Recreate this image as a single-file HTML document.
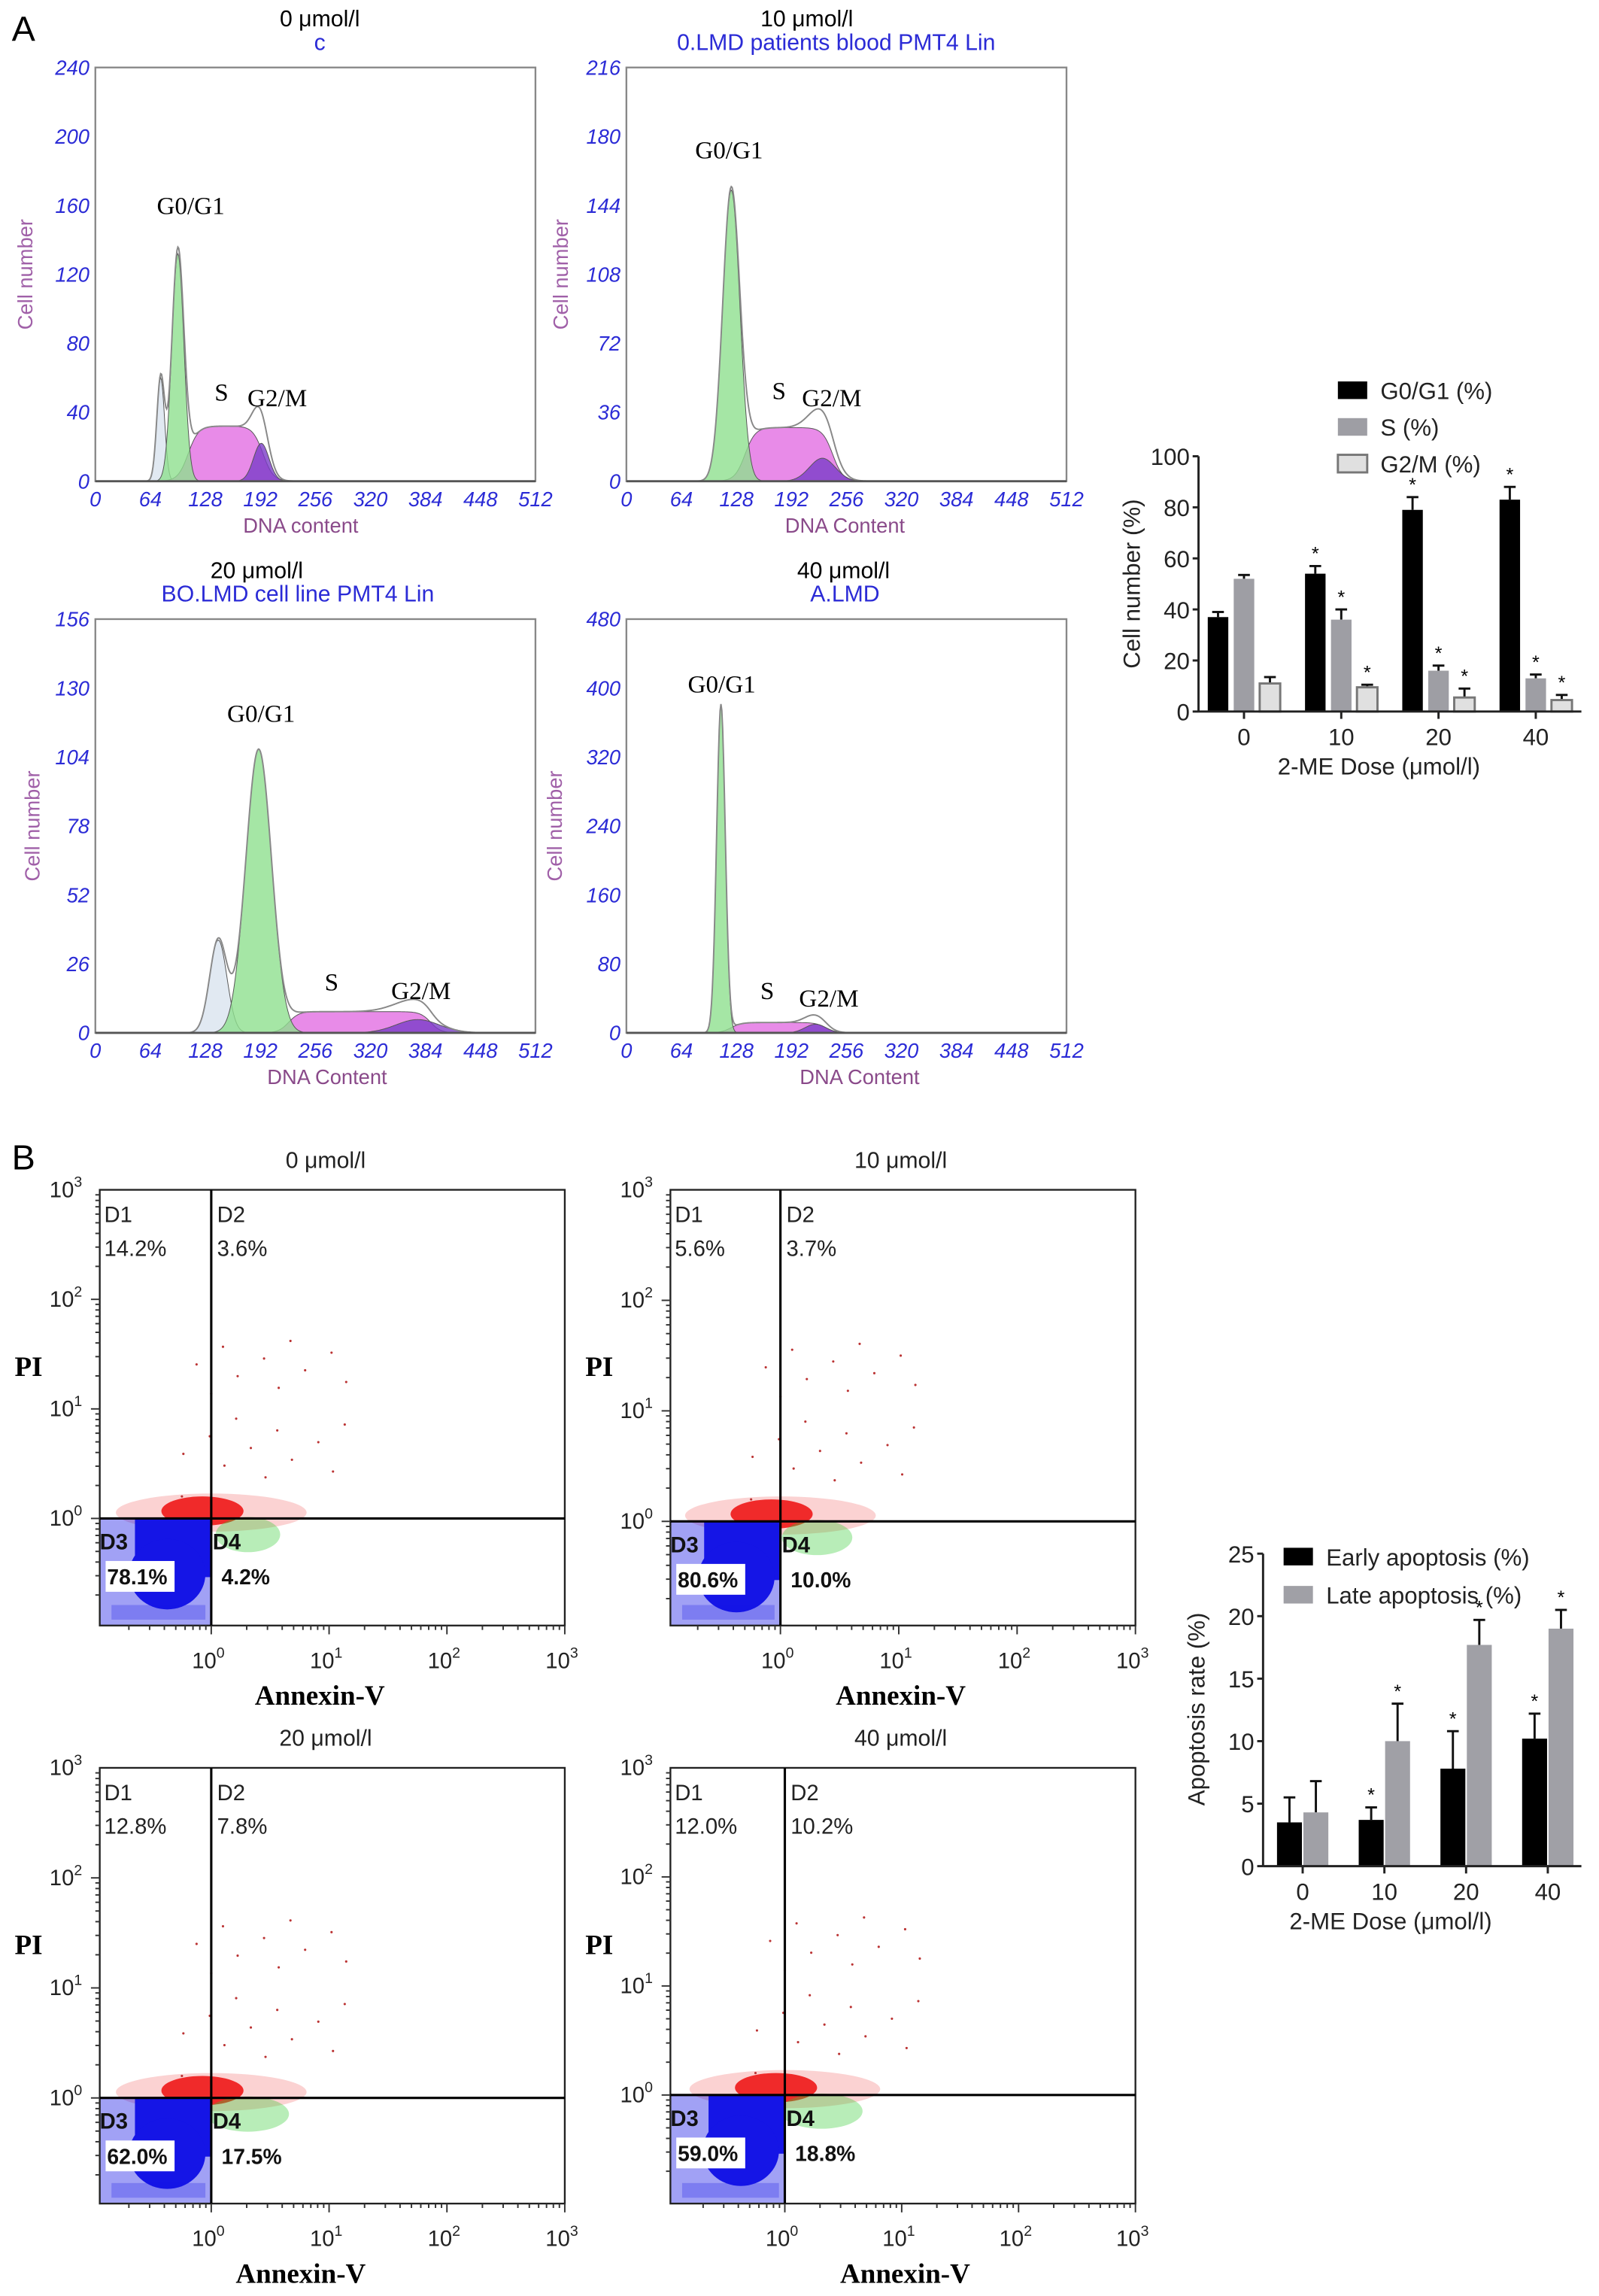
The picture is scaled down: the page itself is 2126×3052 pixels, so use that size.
<!DOCTYPE html>
<html><head><meta charset="utf-8">
<style>
html,body{margin:0;padding:0;background:#fff;}
svg{display:block;}
text{font-family:"Liberation Sans",sans-serif;}
.serif{font-family:"Liberation Serif",serif;}
</style></head>
<body>
<svg id="fig" xmlns="http://www.w3.org/2000/svg" width="2126" height="3052" viewBox="0 0 1090 1565" preserveAspectRatio="none"></svg>
<script>
// ---------- Histogram data (center, height, sd) ----------
const h0Debris=[76,60,4.5], h0G1=[96,132,7], h0S=[108,195,32], h0G2=[193,22,9];
const h10Debris=[0,0,1], h10G1=[122,152,10], h10S=[138,240,28], h10G2=[228,12,15];
const h20Debris=[143,35,10], h20G1=[190,107,15], h20S=[225,390,8], h20G2=[375,5,25];
const h40Debris=[0,0,1], h40G1=[110,380,5], h40S=[122,232,12], h40G2=[220,10,12];
const xTicks=[0,64,128,192,256,320,384,448,512];
// ---------- Bar chart 1 ----------
const doses=["0","10","20","40"];
const g1Vals=[37,54,79,83], g1Err=[2,3,5,5];
const sVals=[52,36,16,13], sErr=[1.5,4,2,1.5];
const g2Vals=[11,9.5,5.5,4.5], g2Err=[2.5,1,3.5,2];
const cycleTicks=[0,20,40,60,80,100];
// ---------- Bar chart 2 ----------
const earlyVals=[3.5,3.7,7.8,10.2], earlyErr=[2,1,3,2];
const lateVals=[4.3,10,17.7,19], lateErr=[2.5,3,2,1.5];
const apoTicks=[0,5,10,15,20,25];
// ---------- Quadrant percentages ----------
const q0=["14.2%","3.6%","78.1%","4.2%"], q10=["5.6%","3.7%","80.6%","10.0%"];
const q20=["12.8%","7.8%","62.0%","17.5%"], q40=["12.0%","10.2%","59.0%","18.8%"];

const svg=document.getElementById('fig');
const NS="http://www.w3.org/2000/svg";
function el(tag,attrs,parent){const e=document.createElementNS(NS,tag);for(const k in attrs)e.setAttribute(k,attrs[k]);(parent||svg).appendChild(e);return e;}
function txt(x,y,s,attrs,parent){const t=el('text',Object.assign({x:x,y:y},attrs||{}),parent);t.textContent=s;return t;}

let t=txt(8,28,"A",{'font-size':24});

t=txt(8,797,"B",{'font-size':24});


function gauss(x,p){return p[1]*Math.exp(-0.5*Math.pow((x-p[0])/p[2],2));}
function plateau(x,p){const w=6;return p[2]/(1+Math.exp(-(x-p[0])/w))/(1+Math.exp(-(p[1]-x)/w));}

function hist(cfg){
  const g=el('g',{});
  
  
  const L=cfg.x,T=cfg.y,W=300,H=282;
  const xs=v=>L+v/512*W, ys=v=>T+H-v/cfg.ymax*H;
  let tt=txt(cfg.tx,cfg.y-28,cfg.title,{'font-size':15.5,'text-anchor':'middle'},g);
  
  tt=txt(cfg.tx2,cfg.y-12,cfg.sub,{'font-size':15.5,'text-anchor':'middle',fill:'#2b2bd6'},g);
  
  const comps=[[cfg.debris,'g','#d9e4ef'],[cfg.s,'p','#e57ee5'],[cfg.g1,'g','#8fe08f'],[cfg.g2,'g','#7a3cc8']];
  const env=[];
  for(let x=0;x<=512;x+=1){let s=0;comps.forEach(c=>{s+=c[1]=='g'?gauss(x,c[0]):plateau(x,c[0]);});env.push([x,s]);}
  comps.forEach((c,i)=>{
    let d='M'+xs(0)+','+ys(0);
    for(let x=0;x<=512;x+=1){const v=c[1]=='g'?gauss(x,c[0]):plateau(x,c[0]);d+=' L'+xs(x).toFixed(2)+','+ys(v).toFixed(2);}
    d+=' L'+xs(512)+','+ys(0)+'Z';
    const p=el('path',{d:d,fill:c[2],'fill-opacity':i==1?0.9:0.8,stroke:'#555','stroke-width':0.5},g);
    
  });
  let d='';env.forEach((e,i)=>{d+=(i?' L':'M')+xs(e[0]).toFixed(2)+','+ys(e[1]).toFixed(2);});
  const en=el('path',{d:d,fill:'none',stroke:'#888','stroke-width':1},g);
  
  const box=el('rect',{x:L,y:T,width:W,height:H,fill:'none',stroke:'#888','stroke-width':1.2},g);
  
  el('line',{x1:L,y1:T+H,x2:L+W,y2:T+H,stroke:'#555','stroke-width':1.5},g);
  for(let v=0;v<=cfg.ymax;v+=cfg.ystep){
    const tl=txt(L-4,ys(v)+5,String(v),{'font-size':14,'font-style':'italic','text-anchor':'end',fill:'#2b2bd6'},g);
    
  }
  xTicks.forEach(v=>{
    const tl=txt(xs(v),T+H+17,String(v),{'font-size':14,'font-style':'italic','text-anchor':'middle',fill:'#2b2bd6'},g);
    
  });
  tt=txt(cfg.xlx,T+H+35,cfg.xl,{'font-size':14,'text-anchor':'middle',fill:'#8a4a8a'},g);
  
  tt=txt(0,0,"Cell number",{'font-size':14,'text-anchor':'middle',fill:'#a060a8',transform:'translate('+cfg.ylx+','+(T+H/2)+') rotate(-90)'},g);
  
  cfg.labels.forEach(l=>{const lt=txt(l[1],l[2],l[0],{'font-size':17,'text-anchor':'middle','class':'serif'},g);
    });
}
hist({name:'histogram-0',x:65,y:46,ymax:240,ystep:40,title:'0 μmol/l',tx:218,sub:'c',tx2:218,xl:'DNA content',xlx:205,ylx:22,
  debris:h0Debris,g1:h0G1,s:h0S,g2:h0G2,labels:[['G0/G1',130,146],['S',151,273],['G2/M',189,277]]});
hist({name:'histogram-10',x:427,y:46,ymax:216,ystep:36,title:'10 μmol/l',tx:550,sub:'0.LMD  patients blood PMT4 Lin',tx2:570,xl:'DNA Content',xlx:576,ylx:387,
  debris:h10Debris,g1:h10G1,s:h10S,g2:h10G2,labels:[['G0/G1',497,108],['S',531,272],['G2/M',567,277]]});
hist({name:'histogram-20',x:65,y:422,ymax:156,ystep:26,title:'20 μmol/l',tx:175,sub:'BO.LMD  cell line PMT4 Lin',tx2:203,xl:'DNA Content',xlx:223,ylx:27,
  debris:h20Debris,g1:h20G1,s:h20S,g2:h20G2,labels:[['G0/G1',178,492],['S',226,675],['G2/M',287,681]]});
hist({name:'histogram-40',x:427,y:422,ymax:480,ystep:80,title:'40 μmol/l',tx:575,sub:'A.LMD',tx2:576,xl:'DNA Content',xlx:586,ylx:383,
  debris:h40Debris,g1:h40G1,s:h40S,g2:h40G2,labels:[['G0/G1',492,472],['S',523,681],['G2/M',565,686]]});

function barChart(cfg){
  const g=el('g',{});
  
  
  const ys=v=>cfg.y0-v*cfg.k;
  const xc=i=>cfg.cx0+i*cfg.step;
  cfg.series.forEach((s,si)=>{
    s.vals.forEach((v,i)=>{
      const cx=xc(i)+(si-(cfg.series.length-1)/2)*cfg.gap;
      const top=ys(v+s.err[i]);
      el('line',{x1:cx,y1:ys(v),x2:cx,y2:top,stroke:'#111','stroke-width':1.5},g);
      el('line',{x1:cx-4,y1:top,x2:cx+4,y2:top,stroke:'#111','stroke-width':1.5},g);
      const r=el('rect',{x:cx-cfg.bw/2,y:ys(v),width:cfg.bw,height:v*cfg.k,fill:s.color,stroke:s.stroke,'stroke-width':s.stroke=='none'?0:1.5},g);
      
      
      if(i>0){const st=txt(cx,top-4,'*',{'font-size':13,'text-anchor':'middle'},g);
        }
    });
  });
  el('line',{x1:cfg.ax,y1:ys(cfg.ticks[cfg.ticks.length-1]),x2:cfg.ax,y2:cfg.y0,stroke:'#222','stroke-width':1.5},g);
  el('line',{x1:cfg.ax,y1:cfg.y0,x2:cfg.xend,y2:cfg.y0,stroke:'#222','stroke-width':1.5},g);
  cfg.ticks.forEach(v=>{
    el('line',{x1:cfg.ax-4,y1:ys(v),x2:cfg.ax,y2:ys(v),stroke:'#222','stroke-width':1.5},g);
    const tl=txt(cfg.ax-6,ys(v)+6,String(v),{'font-size':16,'text-anchor':'end',fill:'#222'},g);
    
  });
  doses.forEach((d,i)=>{
    el('line',{x1:xc(i),y1:cfg.y0,x2:xc(i),y2:cfg.y0+5,stroke:'#222','stroke-width':1.5},g);
    const tl=txt(xc(i),cfg.y0+23,d,{'font-size':16,'text-anchor':'middle',fill:'#222'},g);
    
  });
  let tt=txt(cfg.xlx,cfg.y0+43,'2-ME Dose (μmol/l)',{'font-size':16,'text-anchor':'middle',fill:'#222'},g);
  
  tt=txt(0,0,cfg.ytitle,{'font-size':16,'text-anchor':'middle',fill:'#222',transform:'translate('+cfg.ylx+','+cfg.yly+') rotate(-90)'},g);
  
  cfg.series.forEach((s,si)=>{
    const ly=cfg.legY+si*cfg.legStep;
    const r=el('rect',{x:cfg.legX,y:ly-6,width:20,height:12,fill:s.color,stroke:s.stroke,'stroke-width':s.stroke=='none'?0:1.5},g);
    
    const lt=txt(cfg.legX+29,ly+6,s.label,{'font-size':16,fill:'#222'},g);
    
  });
}
barChart({name:'cell-cycle-bar-chart',y0:485,k:1.74,cx0:848,step:66.3,gap:17.7,bw:14,ax:817,xend:1078,ticks:cycleTicks,
  ytitle:'Cell number (%)',ylx:777,yly:398,xlx:940,legX:912,legY:266,legStep:25,
  series:[{key:'g0g1',label:'G0/G1 (%)',vals:g1Vals,err:g1Err,color:'#000',stroke:'none'},
          {key:'s',label:'S (%)',vals:sVals,err:sErr,color:'#9e9ea4',stroke:'none'},
          {key:'g2m',label:'G2/M (%)',vals:g2Vals,err:g2Err,color:'#e0e0e0',stroke:'#777'}]});
barChart({name:'apoptosis-bar-chart',y0:1272,k:8.52,cx0:888,step:55.7,gap:18,bw:17,ax:861,xend:1078,ticks:apoTicks,
  ytitle:'Apoptosis rate (%)',ylx:821,yly:1165,xlx:948,legX:875,legY:1061,legStep:26,
  series:[{key:'early',label:'Early apoptosis (%)',vals:earlyVals,err:earlyErr,color:'#000',stroke:'none'},
          {key:'late',label:'Late apoptosis (%)',vals:lateVals,err:lateErr,color:'#a0a0a6',stroke:'none'}]});

function dotplot(cfg){
  const g=el('g',{});
  
  
  const L=cfg.x,T=cfg.y,R=L+317,B=T+297,vx=cfg.vx,hy=cfg.hy;
  const cid='clip'+cfg.name;
  const cp=el('clipPath',{id:cid},g);el('rect',{x:L,y:T,width:317,height:297},cp);
  const d=el('g',{'clip-path':'url(#'+cid+')'},g);
  // red cloud
  el('ellipse',{cx:vx,cy:hy-4,rx:65,ry:13,fill:'#e33','fill-opacity':0.22},d);
  el('ellipse',{cx:vx-6,cy:hy-5,rx:28,ry:10,fill:'#e00','fill-opacity':0.8},d);
  // green cloud
  el('ellipse',{cx:vx+25,cy:hy+11,rx:cfg.gr,ry:12,fill:'#3c3','fill-opacity':0.35},d);
  // blue cloud
  el('rect',{x:L,y:hy,width:vx-L,height:B-hy,fill:'#1515e6','fill-opacity':0.4},d);
  el('rect',{x:vx-52,y:hy,width:52,height:40,fill:'#1515e6'},d);
  el('ellipse',{cx:vx-30,cy:hy+38,rx:26,ry:24,fill:'#1515e6'},d);
  el('rect',{x:L+8,y:B-14,width:vx-L-12,height:10,fill:'#1515e6','fill-opacity':0.25},d);
  for(let k=0;k<22;k++){const px=vx-20+((k*37)%120),py=hy-15-((k*53)%110);
    el('circle',{cx:px,cy:py,r:0.8,fill:'#b33'},d);}
  const fr=el('rect',{x:L,y:T,width:317,height:297,fill:'none',stroke:'#222','stroke-width':1.2},g);
  
  el('line',{x1:vx,y1:T,x2:vx,y2:B,stroke:'#000','stroke-width':1.6},g);
  el('line',{x1:L,y1:hy,x2:R,y2:hy,stroke:'#000','stroke-width':1.6},g);
  const dec=(hy-T)/3;
  for(let e=0;e<3;e++){for(let m=1;m<=9;m++){const yy=hy-(e+Math.log10(m))*dec;
    el('line',{x1:L-(m==1?6:3),y1:yy,x2:L,y2:yy,stroke:'#333','stroke-width':1},g);}
    const tl=txt(L-12,hy-e*dec+5,'10',{'font-size':15,'text-anchor':'end',fill:'#222'},g);
    
    const sp=el('tspan',{dy:-7,'font-size':10},tl);sp.textContent=String(e);}
  let tl=txt(L-12,T+5,'10',{'font-size':15,'text-anchor':'end',fill:'#222'},g);
  
  let sp=el('tspan',{dy:-7,'font-size':10},tl);sp.textContent='3';
  for(let m=2;m<=9;m++){const yy=hy+(1-Math.log10(m))*dec;if(yy<B)el('line',{x1:L-3,y1:yy,x2:L,y2:yy,stroke:'#333','stroke-width':1},g);}
  const xd=(R-vx)/3;
  for(let e=-1;e<3;e++){for(let m=1;m<=9;m++){const xx=vx+(e+Math.log10(m))*xd;if(xx<L)continue;
    el('line',{x1:xx,y1:B,x2:xx,y2:B+(m==1?6:3),stroke:'#333','stroke-width':1},g);}}
  el('line',{x1:R,y1:B,x2:R,y2:B+6,stroke:'#333','stroke-width':1},g);
  for(let e=0;e<=3;e++){const xl=txt(vx+e*xd-2,B+29,'10',{'font-size':15,'text-anchor':'middle',fill:'#222'},g);
    
    const s2=el('tspan',{dy:-7,'font-size':10},xl);s2.textContent=String(e);}
  let tt=txt(cfg.tx,T-15,cfg.title,{'font-size':15.5,'text-anchor':'middle',fill:'#222'},g);
  
  tt=txt(L-58,T+127,'PI',{'font-size':19,'font-weight':'bold','class':'serif'},g);
  
  tt=txt(cfg.ax,B+54,'Annexin-V',{'font-size':19,'font-weight':'bold','text-anchor':'middle','class':'serif'},g);
  
  const q=cfg.q;
  [['D1',L+3,T+22],['D2',vx+4,T+22]].forEach(a=>{const lt=txt(a[1],a[2],a[0],{'font-size':15,fill:'#222'},g);
    });
  let v=txt(L+3,T+45,q[0],{'font-size':15,fill:'#222'},g);
  v=txt(vx+4,T+45,q[1],{'font-size':15,fill:'#222'},g);
  el('rect',{x:L+4,y:hy+29,width:47,height:21,fill:'#fff'},g);
  v=txt(L,hy+21,'D3',{'font-size':15,'font-weight':'bold',fill:'#111'},g);
  v=txt(L+5,hy+45,q[2],{'font-size':14.5,'font-weight':'bold',fill:'#111'},g);
  v=txt(vx+1,hy+21,'D4',{'font-size':15,'font-weight':'bold',fill:'#111'},g);
  v=txt(vx+7,hy+45,q[3],{'font-size':14.5,'font-weight':'bold',fill:'#111'},g);
}
dotplot({name:'dotplot-0',x:68,y:811,vx:144,hy:1035,title:'0 μmol/l',tx:222,ax:218,q:q0,gr:22});
dotplot({name:'dotplot-10',x:457,y:811,vx:532,hy:1037,title:'10 μmol/l',tx:614,ax:614,q:q10,gr:24});
dotplot({name:'dotplot-20',x:68,y:1205,vx:144,hy:1430,title:'20 μmol/l',tx:222,ax:205,q:q20,gr:28});
dotplot({name:'dotplot-40',x:457,y:1205,vx:535,hy:1428,title:'40 μmol/l',tx:614,ax:617,q:q40,gr:28});
</script>
</body></html>
